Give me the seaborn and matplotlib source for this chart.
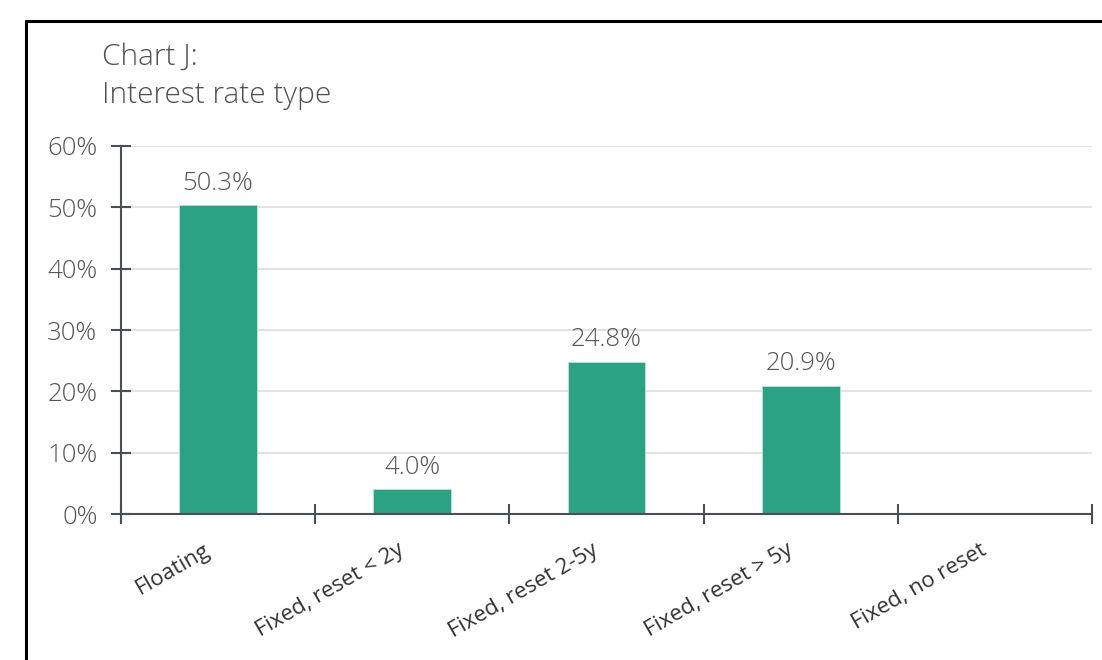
import seaborn as sns
import matplotlib.pyplot as plt
import matplotlib.transforms as mtransforms
import pandas as pd
from matplotlib.lines import Line2D
from matplotlib.ticker import FixedLocator, PercentFormatter

# datos del grafico
categorias = ["Floating", "Fixed, reset < 2y", "Fixed, reset 2-5y",
              "Fixed, reset > 5y", "Fixed, no reset"]
valores = [50.3, 4.0, 24.8, 20.9, None]
etiquetas = ["50.3%", "4.0%", "24.8%", "20.9%", ""]
ticks_y = [0, 10, 20, 30, 40, 50, 60]

datos = pd.DataFrame({"tipo": categorias, "valor": valores})

sns.set_style("white")
plt.rcParams["font.family"] = ["Open Sans", "DejaVu Sans"]
plt.rcParams["font.weight"] = "light"

fig = plt.figure(figsize=(11.02, 6.60), dpi=100)
ax = fig.add_axes([0.1098, 0.2212, 0.8812, 0.5576])

sns.barplot(data=datos, x="tipo", y="valor", color="#2aa283", width=0.4,
            saturation=1, edgecolor="#bfe3d8", linewidth=0.6, ax=ax)

ax.set_xlim(-0.5, len(categorias) - 0.5)
ax.set_ylim(0, 60)
ax.set_xlabel("")
ax.set_ylabel("")

# grid horizontal gris claro
ax.yaxis.set_major_locator(FixedLocator(ticks_y))
ax.yaxis.set_major_formatter(PercentFormatter(decimals=0))
ax.grid(axis="y", color="#e3e3e3", linewidth=1.5)
ax.set_axisbelow(True)

# ticks del eje x en los limites de cada categoria, etiquetas en el centro
limites = [i - 0.5 for i in range(len(categorias) + 1)]
ax.set_xticks(limites)
ax.set_xticklabels([])
ax.set_xticks(range(len(categorias)), minor=True)
ax.set_xticklabels(categorias, minor=True, rotation=30, ha="right",
                   va="center", rotation_mode="anchor", fontsize=16,
                   color="#333333", fontweight="normal")
ax.tick_params(axis="x", which="minor", bottom=True, length=0, pad=25)
ax.tick_params(axis="x", which="major", bottom=True, direction="inout",
               length=14, width=1.5, color="#4a4f55")
ax.tick_params(axis="y", left=True, direction="inout", length=14, width=1.5,
               color="#4a4f55", labelsize=18.5, labelcolor="#555555", pad=10)

# mover un poco las etiquetas a la izquierda
desplazar = mtransforms.ScaledTranslation(-7 / 72, 0, fig.dpi_scale_trans)
for t in ax.get_xticklabels(minor=True):
    t.set_transform(t.get_transform() + desplazar)

for s in ["top", "right"]:
    ax.spines[s].set_visible(False)
for s in ["left", "bottom"]:
    ax.spines[s].set_color("#4a4f55")
    ax.spines[s].set_linewidth(1.5)

# etiquetas de valor
for i, v in enumerate(valores):
    if v is None:
        continue
    ax.annotate(etiquetas[i], (i, v), xytext=(0, 7), textcoords="offset points",
                ha="center", va="bottom", fontsize=18.5, color="#555555")

# titulo
fig.text(0.0926, 0.914, "Chart J:", fontsize=21.5, color="#505050",
         va="center")
fig.text(0.0926, 0.856, "Interest rate type", fontsize=21.5, color="#505050",
         va="center")

# marco
fig.add_artist(Line2D([0.0236, 0.0236], [0, 0.968], color="black", lw=2.2,
                      transform=fig.transFigure))
fig.add_artist(Line2D([0.0236, 1], [0.968, 0.968], color="black", lw=2.2,
                      transform=fig.transFigure))

plt.savefig("out.png", dpi=100)
